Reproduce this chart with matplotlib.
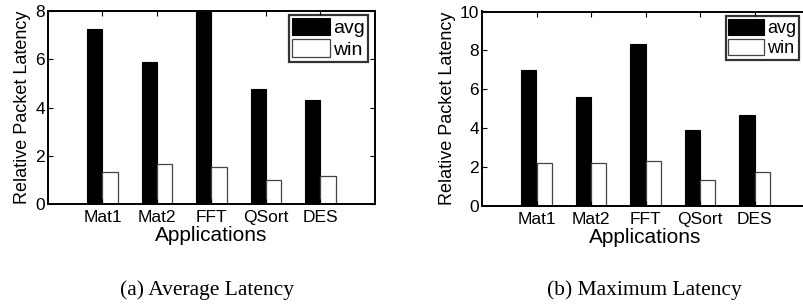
import matplotlib
matplotlib.use("Agg")
import matplotlib.pyplot as plt
import numpy as np

apps = ["Mat1", "Mat2", "FFT", "QSort", "DES"]
avg_latency_avg = [7.25, 5.87, 7.97, 4.78, 4.30]
avg_latency_win = [1.31, 1.65, 1.53, 0.98, 1.16]
max_latency_avg = [6.99, 5.62, 8.33, 3.89, 4.66]
max_latency_win = [2.22, 2.22, 2.33, 1.33, 1.76]
series_names = ["avg", "win"]
captions = ["(a) Average Latency", "(b) Maximum Latency"]

plt.rcParams['font.family'] = ['Liberation Sans', 'DejaVu Sans']

fig = plt.figure(figsize=(8.04, 3.04), dpi=100)

W, H = 804.0, 304.0
def ax_rect(x0, y0, x1, y1):
    return [x0 / W, 1 - y1 / H, (x1 - x0) / W, (y1 - y0) / H]

axL = fig.add_axes(ax_rect(48, 11, 375, 204))
axR = fig.add_axes(ax_rect(482, 11.5, 809, 206))

bw = 0.28

def draw(ax, a, w, ymax, yticks, leg_anchor, legfs):
    x = np.arange(1, len(apps) + 1)
    ax.bar(x - bw / 2, a, bw, color='black', edgecolor='black', linewidth=0.8, label=series_names[0])
    ax.bar(x + bw / 2, w, bw, color='white', edgecolor='#444444', linewidth=0.9, label=series_names[1])
    ax.set_xlim(0, 6)
    ax.set_ylim(0, ymax)
    ax.set_xticks(x)
    ax.set_xticklabels(apps, fontsize=12.5)
    ax.set_yticks(yticks)
    ax.set_yticklabels([str(t) for t in yticks], fontsize=12.5)
    ax.tick_params(direction='in', length=3.5, width=0.8, top=True, right=True)
    ax.tick_params(axis='x', pad=4)
    ax.tick_params(axis='y', pad=2)
    for s in ax.spines.values():
        s.set_linewidth(1.4)
        s.set_color('black')
    ax.set_xlabel("Applications", fontsize=15, labelpad=1)
    ax.set_ylabel("Relative Packet Latency", fontsize=13, labelpad=3)
    leg = ax.legend(loc='upper right', bbox_to_anchor=leg_anchor, bbox_transform=fig.transFigure,
                    fontsize=legfs, frameon=True, fancybox=False, borderpad=0.15,
                    handlelength=2.0, handleheight=1.0, handletextpad=0.15,
                    labelspacing=0.1, borderaxespad=0)
    fr = leg.get_frame()
    fr.set_edgecolor('black')
    fr.set_linewidth(1.6)

draw(axL, avg_latency_avg, avg_latency_win, 8, [0, 2, 4, 6, 8], (368 / W, 1 - 15 / H), 14)
draw(axR, max_latency_avg, max_latency_win, 10, [0, 2, 4, 6, 8, 10], (799 / W, 1 - 16 / H), 13)

fig.text(207 / W, 1 - 290 / H, captions[0], ha='center', va='center',
         fontsize=15.5, family=['Liberation Serif', 'DejaVu Serif'])
fig.text(644 / W, 1 - 290 / H, captions[1], ha='center', va='center',
         fontsize=15.5, family=['Liberation Serif', 'DejaVu Serif'])

fig.savefig("out.png", dpi=100)
